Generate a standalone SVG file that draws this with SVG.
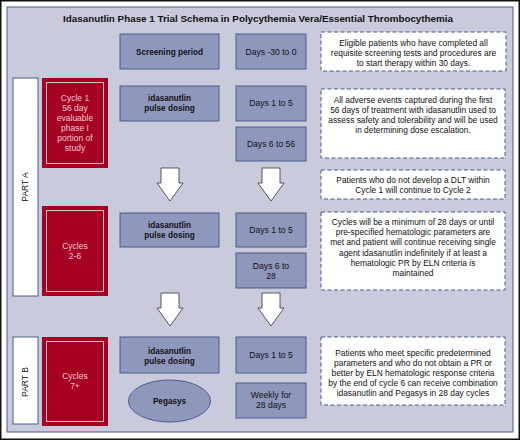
<svg xmlns="http://www.w3.org/2000/svg" width="520" height="440" viewBox="0 0 520 440">
<style>
text{font-family:"Liberation Sans",Arial,sans-serif;fill:#111;text-anchor:middle}
.t{font-size:9.7px;font-weight:bold}
.b{font-size:8.2px;font-weight:bold}
.d{font-size:8.6px}
.n{font-size:8.4px}
.r{font-size:8.5px;fill:#f6c9cf}
.p{font-size:8.5px}
.box{fill:#9097bd;stroke:#4a5d8e;stroke-width:1}
.note{fill:#fff;stroke:#4a5d8e;stroke-width:1;stroke-dasharray:4 2.5}
.red{fill:#a50022}
.redin{fill:none;stroke:#e8c0c6;stroke-width:1}
.wb{fill:#fff;stroke:#4a5d8e;stroke-width:1}
.arr{fill:#fff;stroke:#333;stroke-width:0.8}
</style>
<rect x="0.5" y="0.5" width="519" height="439" fill="#fff" stroke="#111" stroke-width="2"/>
<rect x="7" y="7" width="506" height="425" fill="#c9cadb" stroke="#4a5d8e" stroke-width="1"/>
<text class="t" x="258" y="21.5" textLength="390" lengthAdjust="spacingAndGlyphs">Idasanutlin Phase 1 Trial Schema in Polycythemia Vera/Essential Thrombocythemia</text>

<g id="partA"><rect class="wb" x="13" y="78" width="25" height="218"/><text class="p" transform="translate(28 187) rotate(-90)">PART A</text></g>
<g id="partB"><rect class="wb" x="13" y="337" width="25" height="87"/><text class="p" transform="translate(28 382) rotate(-90)">PART B</text></g>

<g id="cycle1"><rect class="red" x="42" y="78" width="66" height="90"/><rect class="redin" x="46.5" y="82.5" width="57" height="81"/>
<text class="r" x="75" y="101">Cycle 1</text><text class="r" x="75" y="111">56 day</text><text class="r" x="75" y="121">evaluable</text><text class="r" x="75" y="131">phase I</text><text class="r" x="75" y="141">portion of</text><text class="r" x="75" y="151">study</text></g>
<g id="cycles26"><rect class="red" x="42" y="206" width="66" height="90"/><rect class="redin" x="46.5" y="210.5" width="57" height="81"/>
<text class="r" x="75" y="249">Cycles</text><text class="r" x="75" y="259">2-6</text></g>
<g id="cycles7"><rect class="red" x="42" y="337" width="66" height="89"/><rect class="redin" x="46.5" y="341.5" width="57" height="80"/>
<text class="r" x="75" y="379">Cycles</text><text class="r" x="75" y="389">7+</text></g>

<g id="screening"><rect class="box" x="120" y="34" width="99" height="35"/><text class="b" x="169.5" y="55">Screening period</text></g>
<g id="days30"><rect class="box" x="236" y="34" width="70" height="35"/><text class="d" x="271" y="55">Days -30 to 0</text></g>
<g id="note1"><rect class="note" x="321" y="32" width="185" height="39"/>
<text class="n" x="413.5" y="45.5">Eligible patients who have completed all</text><text class="n" x="413.5" y="55.5">requisite screening tests and procedures are</text><text class="n" x="413.5" y="65.5">to start therapy within 30 days.</text></g>

<g id="ida1"><rect class="box" x="120" y="86" width="99" height="35"/><text class="b" x="169.5" y="101">idasanutlin</text><text class="b" x="169.5" y="111">pulse dosing</text></g>
<g id="d15a"><rect class="box" x="236" y="86" width="70" height="35"/><text class="d" x="271" y="106">Days 1 to 5</text></g>
<g id="d656"><rect class="box" x="236" y="127" width="70" height="34"/><text class="d" x="271" y="147">Days 6 to 56</text></g>
<g id="note2"><rect class="note" x="321" y="89" width="184" height="69"/>
<text class="n" x="413" y="102.5">All adverse events captured during the first</text><text class="n" x="413" y="112.5">56 days of treatment with idasanutlin used to</text><text class="n" x="413" y="122.5">assess safety and tolerability and will be used</text><text class="n" x="413" y="132.5">in determining dose escalation.</text></g>
<g id="note3"><rect class="note" x="321" y="170" width="184" height="29"/>
<text class="n" x="413" y="182.5">Patients who do not develop a DLT within</text><text class="n" x="413" y="192.5">Cycle 1 will continue to Cycle 2</text></g>

<g id="ida2"><rect class="box" x="120" y="213" width="99" height="34"/><text class="b" x="169.5" y="228">idasanutlin</text><text class="b" x="169.5" y="238">pulse dosing</text></g>
<g id="d15b"><rect class="box" x="236" y="213" width="70" height="34"/><text class="d" x="271" y="233">Days 1 to 5</text></g>
<g id="d628"><rect class="box" x="236" y="253" width="70" height="35"/><text class="d" x="271" y="269">Days 6 to</text><text class="d" x="271" y="279">28</text></g>
<g id="note4"><rect class="note" x="321" y="212" width="184" height="78"/>
<text class="n" x="413" y="225">Cycles will be a minimum of 28 days or until</text><text class="n" x="413" y="235.2">pre-specified hematologic parameters are</text><text class="n" x="413" y="245.4">met and patient will continue receiving single</text><text class="n" x="413" y="255.6">agent idasanutlin indefinitely if at least a</text><text class="n" x="413" y="265.8">hematologic PR by ELN criteria is</text><text class="n" x="413" y="276">maintained</text></g>

<g id="ida3"><rect class="box" x="120" y="337" width="99" height="36"/><text class="b" x="169.5" y="354">idasanutlin</text><text class="b" x="169.5" y="364">pulse dosing</text></g>
<g id="d15c"><rect class="box" x="236" y="337" width="70" height="36"/><text class="d" x="271" y="358">Days 1 to 5</text></g>
<g id="pegasys"><ellipse cx="169.5" cy="401" rx="41" ry="21" fill="#9097bd" stroke="#4a5d8e" stroke-width="1"/><text class="b" x="169.5" y="404">Pegasys</text></g>
<g id="weekly"><rect class="box" x="236" y="383" width="70" height="35"/><text class="d" x="271" y="398">Weekly for</text><text class="d" x="271" y="408">28 days</text></g>
<g id="note5"><rect class="note" x="321" y="337" width="184" height="68"/>
<text class="n" x="413" y="355.5">Patients who meet specific predetermined</text><text class="n" x="413" y="365.5">parameters and who do not obtain a PR or</text><text class="n" x="413" y="375.5">better by ELN hematologic response criteria</text><text class="n" x="413" y="385.5">by the end of cycle 6 can receive combination</text><text class="n" x="413" y="395.5">idasanutlin and Pegasys in 28 day cycles</text></g>

<g id="connectors">
<path class="arr" d="M161,168 H179 V183 H183 L170,201 L157,183 H161 Z"/>
<path class="arr" d="M262,168 H280 V183 H284 L271,201 L258,183 H262 Z"/>
<path class="arr" d="M161,293 H179 V308 H183 L170,326 L157,308 H161 Z"/>
<path class="arr" d="M262,293 H280 V308 H284 L271,326 L258,308 H262 Z"/>
</g>
</svg>
